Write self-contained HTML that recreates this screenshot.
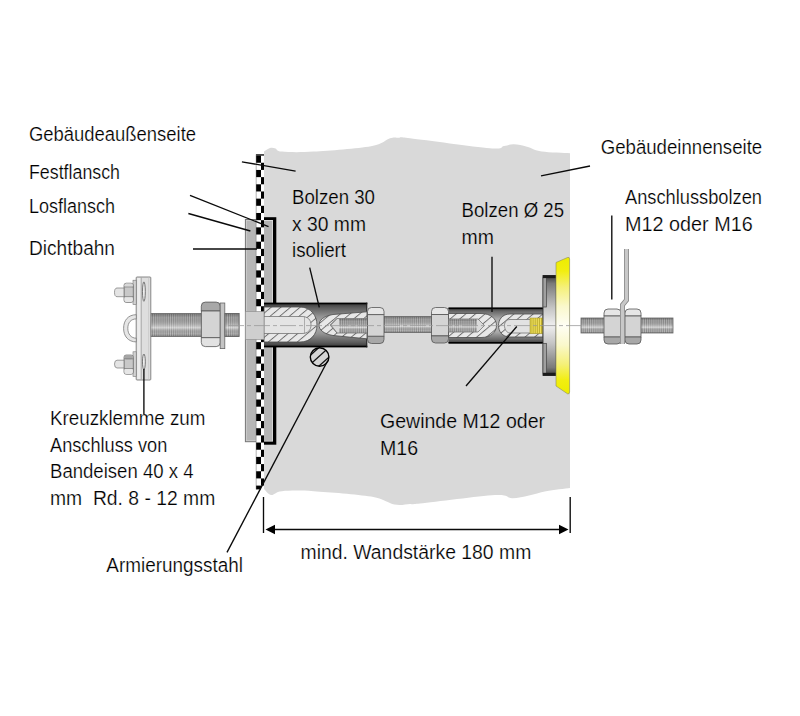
<!DOCTYPE html><html><head><meta charset="utf-8"><style>html,body{margin:0;padding:0;background:#fff;width:800px;height:716px;overflow:hidden}svg{display:block}text{font-family:"Liberation Sans",sans-serif;fill:#000}</style></head><body>
<svg width="800" height="716" viewBox="0 0 800 716">
<defs>
<linearGradient id="gSleeve" x1="0" y1="0" x2="0" y2="1">
<stop offset="0" stop-color="#383838"/><stop offset="0.1" stop-color="#5c5c5c"/><stop offset="0.3" stop-color="#939393"/><stop offset="0.5" stop-color="#b2b2b2"/><stop offset="0.7" stop-color="#939393"/><stop offset="0.9" stop-color="#5c5c5c"/><stop offset="1" stop-color="#383838"/></linearGradient>
<linearGradient id="gSleeve2" x1="0" y1="0" x2="0" y2="1">
<stop offset="0" stop-color="#3a3a3a"/><stop offset="0.1" stop-color="#6a6a6a"/><stop offset="0.3" stop-color="#a6a6a6"/><stop offset="0.5" stop-color="#c4c4c4"/><stop offset="0.7" stop-color="#a6a6a6"/><stop offset="0.9" stop-color="#6a6a6a"/><stop offset="1" stop-color="#3a3a3a"/></linearGradient>
<linearGradient id="gYellow" x1="0" y1="0" x2="0" y2="1">
<stop offset="0" stop-color="#ecec00"/><stop offset="0.1" stop-color="#f2ee10"/><stop offset="0.22" stop-color="#f5f07a"/><stop offset="0.36" stop-color="#faf8cc"/><stop offset="0.5" stop-color="#fefef4"/><stop offset="0.64" stop-color="#faf8cc"/><stop offset="0.78" stop-color="#f5f07a"/><stop offset="0.9" stop-color="#f2ee10"/><stop offset="1" stop-color="#ecec00"/></linearGradient>
<linearGradient id="gFlange" x1="0" y1="0" x2="0" y2="1">
<stop offset="0" stop-color="#3a3a3a"/><stop offset="0.08" stop-color="#7a7a7a"/><stop offset="0.32" stop-color="#c4c4c4"/><stop offset="0.5" stop-color="#efefef"/><stop offset="0.68" stop-color="#c4c4c4"/><stop offset="0.92" stop-color="#7a7a7a"/><stop offset="1" stop-color="#3a3a3a"/></linearGradient>
<pattern id="pThread" width="1.9" height="10" patternUnits="userSpaceOnUse"><rect width="1.9" height="10" fill="#c8c8c8"/><rect width="0.7" height="10" fill="#8a8a8a"/></pattern>
<linearGradient id="gRod" x1="0" y1="0" x2="0" y2="1"><stop offset="0" stop-color="#000" stop-opacity="0.35"/><stop offset="0.18" stop-color="#000" stop-opacity="0.12"/><stop offset="0.62" stop-color="#fff" stop-opacity="0.45"/><stop offset="0.88" stop-color="#000" stop-opacity="0.05"/><stop offset="1" stop-color="#000" stop-opacity="0.3"/></linearGradient>
<pattern id="pHatch" width="6.2" height="6.2" patternUnits="userSpaceOnUse" patternTransform="rotate(50)"><rect width="6.2" height="6.2" fill="#e8e8e8"/><rect width="0.95" height="6.2" fill="#6e6e6e"/></pattern>
</defs>
<path d="M264,151.6 C265.00,151.00 268.08,148.53 270.00,148.00 C271.92,147.47 273.50,147.80 275.50,148.40 C277.50,149.00 275.63,151.07 282.00,151.60 C288.37,152.13 298.87,152.50 313.70,151.60 C328.53,150.70 358.28,148.43 371.00,146.20 C383.72,143.97 385.33,139.62 390.00,138.20 C394.67,136.78 395.67,137.70 399.00,137.70 C402.33,137.70 394.83,136.45 410.00,138.20 C425.17,139.95 474.33,146.90 490.00,148.20 C505.67,149.50 500.00,146.65 504.00,146.00 C508.00,145.35 510.17,144.17 514.00,144.30 C517.83,144.43 522.38,145.58 527.00,146.80 C531.62,148.02 534.53,150.53 541.70,151.60 C548.87,152.67 565.28,152.93 570.00,153.20 L570,488 C566.00,488.53 552.83,489.95 546.00,491.20 C539.17,492.45 534.67,494.32 529.00,495.50 C523.33,496.68 517.67,498.38 512.00,498.30 C506.33,498.22 510.33,494.12 495.00,495.00 C479.67,495.88 434.17,502.10 420.00,503.60 C405.83,505.10 414.25,503.83 410.00,504.00 C405.75,504.17 401.00,505.83 394.50,504.60 C388.00,503.37 384.47,498.83 371.00,496.60 C357.53,494.37 328.53,492.10 313.70,491.20 C298.87,490.30 289.08,490.57 282.00,491.20 C274.92,491.83 274.20,495.37 271.20,495.00 C268.20,494.63 265.20,490.00 264.00,489.00 Z" fill="#d9d9d9"/>
<rect x="244.9" y="219" width="11.4" height="223.2" fill="#777"/>
<rect x="245.9" y="220" width="10.4" height="221.2" fill="#d0d0d0"/>
<rect x="246.7" y="220.8" width="9.6" height="219.6" fill="#b6b6b6"/>
<rect x="263.6" y="217.2" width="12.7" height="227.5" fill="#000"/>
<rect x="263.6" y="220" width="9.4" height="221.6" fill="#dcdcdc"/>
<rect x="263.6" y="221" width="8.6" height="219.8" fill="#b4b4b4"/>
<rect x="256" y="154.3" width="8" height="335" fill="#fff"/>
<rect x="256" y="155.60" width="5" height="7.17" fill="#000"/>
<rect x="261" y="162.77" width="3" height="7.17" fill="#000"/>
<rect x="256" y="169.95" width="5" height="7.17" fill="#000"/>
<rect x="261" y="177.12" width="3" height="7.17" fill="#000"/>
<rect x="256" y="184.30" width="5" height="7.17" fill="#000"/>
<rect x="261" y="191.47" width="3" height="7.17" fill="#000"/>
<rect x="256" y="198.64" width="5" height="7.17" fill="#000"/>
<rect x="261" y="205.82" width="3" height="7.17" fill="#000"/>
<rect x="256" y="212.99" width="5" height="7.17" fill="#000"/>
<rect x="261" y="220.17" width="3" height="7.17" fill="#000"/>
<rect x="256" y="227.34" width="5" height="7.17" fill="#000"/>
<rect x="261" y="234.51" width="3" height="7.17" fill="#000"/>
<rect x="256" y="241.69" width="5" height="7.17" fill="#000"/>
<rect x="261" y="248.86" width="3" height="7.17" fill="#000"/>
<rect x="256" y="256.03" width="5" height="7.17" fill="#000"/>
<rect x="261" y="263.21" width="3" height="7.17" fill="#000"/>
<rect x="256" y="270.38" width="5" height="7.17" fill="#000"/>
<rect x="261" y="277.56" width="3" height="7.17" fill="#000"/>
<rect x="256" y="284.73" width="5" height="7.17" fill="#000"/>
<rect x="261" y="291.90" width="3" height="7.17" fill="#000"/>
<rect x="256" y="299.08" width="5" height="7.17" fill="#000"/>
<rect x="261" y="306.25" width="3" height="7.17" fill="#000"/>
<rect x="256" y="313.43" width="5" height="7.17" fill="#000"/>
<rect x="261" y="320.60" width="3" height="7.17" fill="#000"/>
<rect x="256" y="327.77" width="5" height="7.17" fill="#000"/>
<rect x="261" y="334.95" width="3" height="7.17" fill="#000"/>
<rect x="256" y="342.12" width="5" height="7.17" fill="#000"/>
<rect x="261" y="349.30" width="3" height="7.17" fill="#000"/>
<rect x="256" y="356.47" width="5" height="7.17" fill="#000"/>
<rect x="261" y="363.64" width="3" height="7.17" fill="#000"/>
<rect x="256" y="370.82" width="5" height="7.17" fill="#000"/>
<rect x="261" y="377.99" width="3" height="7.17" fill="#000"/>
<rect x="256" y="385.17" width="5" height="7.17" fill="#000"/>
<rect x="261" y="392.34" width="3" height="7.17" fill="#000"/>
<rect x="256" y="399.51" width="5" height="7.17" fill="#000"/>
<rect x="261" y="406.69" width="3" height="7.17" fill="#000"/>
<rect x="256" y="413.86" width="5" height="7.17" fill="#000"/>
<rect x="261" y="421.03" width="3" height="7.17" fill="#000"/>
<rect x="256" y="428.21" width="5" height="7.17" fill="#000"/>
<rect x="261" y="435.38" width="3" height="7.17" fill="#000"/>
<rect x="256" y="442.56" width="5" height="7.17" fill="#000"/>
<rect x="261" y="449.73" width="3" height="7.17" fill="#000"/>
<rect x="256" y="456.90" width="5" height="7.17" fill="#000"/>
<rect x="261" y="464.08" width="3" height="7.17" fill="#000"/>
<rect x="256" y="471.25" width="5" height="7.17" fill="#000"/>
<rect x="261" y="478.43" width="3" height="7.17" fill="#000"/>
<rect x="256" y="485.60" width="5" height="3.80" fill="#000"/>
<rect x="256" y="154.3" width="8" height="1.3" fill="#000"/>
<line x1="256.2" y1="154.3" x2="256.2" y2="489.4" stroke="#666" stroke-width="0.5"/>
<rect x="150" y="313.5" width="89" height="23" fill="url(#pThread)"/>
<rect x="150" y="313.5" width="89" height="23" fill="url(#gRod)" stroke="#666" stroke-width="0.8"/>
<path d="M201.3,311.0 V306.1 Q201.3,302.1 205.3,302.1 H216.20000000000002 Q220.20000000000002,302.1 220.20000000000002,306.1 V311.0 Z" fill="#a8a8a8" stroke="#555" stroke-width="0.8"/>
<rect x="201.3" y="311.0" width="18.9" height="26.7" fill="#d4d4d4" stroke="#555" stroke-width="0.8"/>
<path d="M201.3,337.70000000000005 V342.6 Q201.3,346.6 205.3,346.6 H216.20000000000002 Q220.20000000000002,346.6 220.20000000000002,342.6 V337.70000000000005 Z" fill="#e2e2e2" stroke="#555" stroke-width="0.8"/>
<rect x="220.2" y="303" width="4.6" height="45.6" fill="#c4c4c4" stroke="#666" stroke-width="0.8"/>
<rect x="136.2" y="277" width="14.6" height="103" rx="0.8" fill="#dedede" stroke="#7a7a7a" stroke-width="0.9"/>
<rect x="137.2" y="278" width="3" height="101" fill="#ececec"/>
<line x1="141.3" y1="277.5" x2="141.3" y2="379.5" stroke="#999" stroke-width="0.7"/>
<line x1="148.6" y1="277.5" x2="148.6" y2="379.5" stroke="#c4c4c4" stroke-width="0.7"/>
<ellipse cx="143.9" cy="291.6" rx="1.4" ry="9.7" fill="#f0f0f0" stroke="#555" stroke-width="0.8"/>
<ellipse cx="143.9" cy="361.8" rx="1.4" ry="7.8" fill="#f0f0f0" stroke="#555" stroke-width="0.8"/>
<path d="M136.3,314.7 C128,314.7 123.6,320.5 123.6,328.3 C123.6,336 128,341.9 136.3,341.9 V338.2 C131,338.2 127.8,334 127.8,328.3 C127.8,322.6 131,318.9 136.3,318.9 Z" fill="#e6e6e6" stroke="#7a7a7a" stroke-width="0.8"/>
<rect x="133" y="280.2" width="3.2" height="24.400000000000034" fill="#d2d2d2" stroke="#777" stroke-width="0.6"/>
<rect x="124" y="283.2" width="9.3" height="19.19999999999999" rx="2.2" fill="#c8c8c8" stroke="#666" stroke-width="0.7"/>
<rect x="124.4" y="283.59999999999997" width="8.5" height="3.839999999999998" rx="2" fill="#d8d8d8"/>
<rect x="124.4" y="296.64" width="8.5" height="5.359999999999996" rx="2" fill="#e6e6e6"/>
<line x1="124" y1="287.03999999999996" x2="133.3" y2="287.03999999999996" stroke="#666" stroke-width="0.6"/>
<line x1="124" y1="296.64" x2="133.3" y2="296.64" stroke="#666" stroke-width="0.6"/>
<path d="M124,288 H117 Q114.5,288 114.5,292.35 Q114.5,296.7 117,296.7 H124 Z" fill="#e4e4e4" stroke="#777" stroke-width="0.7"/>
<rect x="133" y="351.8" width="3.2" height="24.599999999999966" fill="#d2d2d2" stroke="#777" stroke-width="0.6"/>
<rect x="124" y="355" width="9.3" height="19.30000000000001" rx="2.2" fill="#c8c8c8" stroke="#666" stroke-width="0.7"/>
<rect x="124.4" y="355.4" width="8.5" height="3.8600000000000025" rx="2" fill="#a6a6a6"/>
<rect x="124.4" y="368.51" width="8.5" height="5.390000000000003" rx="2" fill="#e6e6e6"/>
<line x1="124" y1="358.86" x2="133.3" y2="358.86" stroke="#666" stroke-width="0.6"/>
<line x1="124" y1="368.51" x2="133.3" y2="368.51" stroke="#666" stroke-width="0.6"/>
<path d="M124,360.2 H117 Q114.5,360.2 114.5,364.1 Q114.5,368 117,368 H124 Z" fill="#e4e4e4" stroke="#777" stroke-width="0.7"/>
<rect x="264" y="303.2" width="103" height="43.6" fill="url(#gSleeve)"/>
<rect x="264" y="302.6" width="103.3" height="1.7" fill="#000"/>
<rect x="264" y="345.7" width="103.3" height="1.7" fill="#000"/>
<rect x="366.3" y="302.6" width="1" height="44.8" fill="#222"/>
<path d="M264,307 H300 C311,307 317,316 317,325 C317,334 311,342 300,342 H264 Z" fill="url(#pHatch)" stroke="#4a4a4a" stroke-width="0.8"/>
<path d="M264,316.5 H302 C308,316.5 311,320 311,325 C311,330 308,333.5 302,333.5 H264 Z" fill="#e4e4e4" stroke="#666" stroke-width="0.7"/>
<line x1="304.5" y1="316.5" x2="304.5" y2="333.5" stroke="#888" stroke-width="0.6"/>
<path d="M367,311.8 L333,314.5 C324,316 319,320 319,325 C319,330 324,334 333,335.5 L367,338.8 Z" fill="url(#pHatch)" stroke="#4a4a4a" stroke-width="0.8"/>
<path d="M367,318.5 H337 L330,325 L337,333 H367 Z" fill="#dadada" stroke="#666" stroke-width="0.7"/>
<path d="M337,318.5 L331,325 L337,333" fill="none" stroke="#666" stroke-width="0.6"/>
<rect x="339" y="318.8" width="28" height="14" fill="url(#pThread)"/>
<rect x="339" y="318.8" width="28" height="14" fill="url(#gRod)"/>
<rect x="245.3" y="311.5" width="18.7" height="28" fill="#cfcfcf" stroke="#888" stroke-width="0.6"/>
<rect x="225" y="313.5" width="14" height="23" fill="url(#pThread)"/>
<rect x="225" y="313.5" width="14" height="23" fill="url(#gRod)" stroke="#666" stroke-width="0.8"/>
<rect x="384" y="316.5" width="48" height="16" fill="url(#pThread)"/>
<rect x="384" y="316.5" width="48" height="16" fill="url(#gRod)" stroke="#666" stroke-width="0.8"/>
<path d="M367.5,314.7 V311.5 Q367.5,307.5 371.5,307.5 H380.0 Q384.0,307.5 384.0,311.5 V314.7 Z" fill="#e6e6e6" stroke="#555" stroke-width="0.8"/>
<rect x="367.5" y="314.7" width="16.5" height="21.6" fill="#d4d4d4" stroke="#555" stroke-width="0.8"/>
<path d="M367.5,336.3 V339.5 Q367.5,343.5 371.5,343.5 H380.0 Q384.0,343.5 384.0,339.5 V336.3 Z" fill="#a8a8a8" stroke="#555" stroke-width="0.8"/>
<path d="M431.5,314.6 V311.5 Q431.5,307.5 435.5,307.5 H444.5 Q448.5,307.5 448.5,311.5 V314.6 Z" fill="#e6e6e6" stroke="#555" stroke-width="0.8"/>
<rect x="431.5" y="314.6" width="17" height="21.299999999999997" fill="#d4d4d4" stroke="#555" stroke-width="0.8"/>
<path d="M431.5,335.9 V339 Q431.5,343 435.5,343 H444.5 Q448.5,343 448.5,339 V335.9 Z" fill="#a8a8a8" stroke="#555" stroke-width="0.8"/>
<rect x="448.5" y="308" width="95" height="35" fill="url(#gSleeve2)"/>
<rect x="448.5" y="307.4" width="95" height="1.7" fill="#000"/>
<rect x="448.5" y="342" width="95" height="1.7" fill="#000"/>
<path d="M448.5,313.5 H481 C491,313.5 496.5,319 496.5,325.5 C496.5,332 491,337.5 481,337.5 H448.5 Z" fill="url(#pHatch)" stroke="#4a4a4a" stroke-width="0.8"/>
<path d="M448.5,319 H478 L484.5,325.5 L478,332 H448.5 Z" fill="#dadada" stroke="#666" stroke-width="0.7"/>
<rect x="449" y="319.3" width="28" height="12.4" fill="url(#pThread)"/>
<rect x="449" y="319.3" width="28" height="12.4" fill="url(#gRod)"/>
<path d="M543,314 H510 C502,314 498.5,320 498.5,325.5 C498.5,331 502,337 510,337 H543 Z" fill="url(#pHatch)" stroke="#4a4a4a" stroke-width="0.8"/>
<path d="M543,319.5 H510 C506.5,319.5 504.5,322 504.5,325.5 C504.5,329 506.5,333 510,333 H543 Z" fill="#e2e2e2" stroke="#666" stroke-width="0.7"/>
<rect x="530" y="318" width="12.8" height="15.5" fill="#f0e060" stroke="#a09020" stroke-width="0.5"/>
<line x1="531.0" y1="318" x2="531.0" y2="333.5" stroke="#a89818" stroke-width="0.7"/>
<line x1="533.1" y1="318" x2="533.1" y2="333.5" stroke="#a89818" stroke-width="0.7"/>
<line x1="535.2" y1="318" x2="535.2" y2="333.5" stroke="#a89818" stroke-width="0.7"/>
<line x1="537.3" y1="318" x2="537.3" y2="333.5" stroke="#a89818" stroke-width="0.7"/>
<line x1="539.4" y1="318" x2="539.4" y2="333.5" stroke="#a89818" stroke-width="0.7"/>
<line x1="541.5" y1="318" x2="541.5" y2="333.5" stroke="#a89818" stroke-width="0.7"/>
<rect x="543" y="275.5" width="13.2" height="100" fill="url(#gFlange)" stroke="#333" stroke-width="0.9"/>
<rect x="543" y="277" width="3.5" height="30" fill="#a0a0a0" stroke="#444" stroke-width="0.7"/>
<rect x="543" y="343.5" width="3.5" height="30.5" fill="#a0a0a0" stroke="#444" stroke-width="0.7"/>
<rect x="543" y="275.3" width="13.2" height="2.8" fill="#1a1a1a"/>
<rect x="543" y="372.8" width="13.2" height="2.8" fill="#1a1a1a"/>
<path d="M556,262.5 L567.5,257.5 Q569.6,256.8 569.6,259 V392 Q569.6,394.4 567.5,393.8 L556,386 Z" fill="url(#gYellow)" stroke="#8a8a60" stroke-width="0.6"/>
<rect x="581" y="318" width="92" height="15" fill="url(#pThread)"/>
<rect x="581" y="318" width="92" height="15" fill="url(#gRod)" stroke="#666" stroke-width="0.8"/>
<path d="M604,316.0 V313 Q604,309 608,309 H617 Q621,309 621,313 V316.0 Z" fill="#e6e6e6" stroke="#555" stroke-width="0.8"/>
<rect x="604" y="316.0" width="17" height="21.0" fill="#d4d4d4" stroke="#555" stroke-width="0.8"/>
<path d="M604,337.0 V340 Q604,344 608,344 H617 Q621,344 621,340 V337.0 Z" fill="#a8a8a8" stroke="#555" stroke-width="0.8"/>
<path d="M625,316.0 V313 Q625,309 629,309 H637 Q641,309 641,313 V316.0 Z" fill="#e6e6e6" stroke="#555" stroke-width="0.8"/>
<rect x="625" y="316.0" width="16" height="21.0" fill="#d4d4d4" stroke="#555" stroke-width="0.8"/>
<path d="M625,337.0 V340 Q625,344 629,344 H637 Q641,344 641,340 V337.0 Z" fill="#a8a8a8" stroke="#555" stroke-width="0.8"/>
<path d="M626.5,249 V300 L622.5,305 V344" fill="none" stroke="#888" stroke-width="5"/>
<path d="M626.5,249 V300 L622.5,305 V344" fill="none" stroke="#c8c8c8" stroke-width="3.4"/>
<clipPath id="cReb"><circle cx="319.6" cy="357" r="9.3"/></clipPath>
<circle cx="319.6" cy="357" r="9.3" fill="#d4d4d4"/>
<g clip-path="url(#cReb)">
<line x1="303.43" y1="361.46" x2="325.73" y2="341.39" stroke="#111" stroke-width="1.3"/>
<line x1="307.92" y1="366.44" x2="330.21" y2="346.37" stroke="#111" stroke-width="1.3"/>
<line x1="312.67" y1="371.72" x2="334.96" y2="351.64" stroke="#111" stroke-width="1.3"/>
</g>
<circle cx="319.6" cy="357" r="9.3" fill="none" stroke="#000" stroke-width="1.4"/>
<line x1="228" y1="325.6" x2="582" y2="325.6" stroke="#999" stroke-width="0.9" stroke-dasharray="16,3,4,3" opacity="0.85"/>
<line x1="241.9" y1="161.8" x2="295.6" y2="171.2" stroke="#0a0a0a" stroke-width="1.35"/>
<line x1="190" y1="195.4" x2="268.5" y2="226.6" stroke="#0a0a0a" stroke-width="1.35"/>
<line x1="188.4" y1="213.5" x2="250.4" y2="231" stroke="#0a0a0a" stroke-width="1.35"/>
<line x1="193" y1="249" x2="257" y2="249" stroke="#0a0a0a" stroke-width="1.35"/>
<line x1="309.7" y1="267.6" x2="319.3" y2="307.4" stroke="#0a0a0a" stroke-width="1.35"/>
<line x1="492" y1="256.75" x2="492" y2="311.9" stroke="#0a0a0a" stroke-width="1.35"/>
<line x1="541" y1="175.8" x2="590" y2="166" stroke="#0a0a0a" stroke-width="1.35"/>
<line x1="611.8" y1="215.5" x2="611.8" y2="299.5" stroke="#0a0a0a" stroke-width="1.35"/>
<line x1="143.9" y1="369" x2="143.9" y2="414.7" stroke="#0a0a0a" stroke-width="1.35"/>
<line x1="466" y1="386" x2="516.8" y2="326.5" stroke="#0a0a0a" stroke-width="1.35"/>
<line x1="227" y1="552.4" x2="327" y2="362" stroke="#0a0a0a" stroke-width="1.35"/>
<line x1="263.5" y1="497" x2="263.5" y2="533" stroke="#0a0a0a" stroke-width="1.35"/>
<line x1="570.2" y1="497" x2="570.2" y2="533" stroke="#0a0a0a" stroke-width="1.35"/>
<line x1="272" y1="529.5" x2="562" y2="529.5" stroke="#0a0a0a" stroke-width="1.35"/>
<polygon points="265.5,529.5 275,524.8 275,534.2" fill="#000"/>
<polygon points="568.5,529.5 559,524.8 559,534.2" fill="#000"/>
<text x="29" y="141.30" font-size="19.5" textLength="167" lengthAdjust="spacingAndGlyphs" xml:space="preserve" stroke="#ffffff" stroke-width="0.22">Gebäudeaußenseite</text>
<text x="29" y="179.30" font-size="19.5" textLength="91" lengthAdjust="spacingAndGlyphs" xml:space="preserve" stroke="#ffffff" stroke-width="0.22">Festflansch</text>
<text x="29" y="212.80" font-size="19.5" textLength="86" lengthAdjust="spacingAndGlyphs" xml:space="preserve" stroke="#ffffff" stroke-width="0.22">Losflansch</text>
<text x="29" y="254.90" font-size="19.5" textLength="86" lengthAdjust="spacingAndGlyphs" xml:space="preserve" stroke="#ffffff" stroke-width="0.22">Dichtbahn</text>
<text x="292" y="204.05" font-size="19.5" textLength="83" lengthAdjust="spacingAndGlyphs" xml:space="preserve" stroke="#d9d9d9" stroke-width="0.22">Bolzen 30</text>
<text x="292" y="231.05" font-size="19.5" textLength="74" lengthAdjust="spacingAndGlyphs" xml:space="preserve" stroke="#d9d9d9" stroke-width="0.22">x 30 mm</text>
<text x="292" y="257.30" font-size="19.5" textLength="54" lengthAdjust="spacingAndGlyphs" xml:space="preserve" stroke="#d9d9d9" stroke-width="0.22">isoliert</text>
<text x="461.6" y="216.90" font-size="19.5" textLength="102.4" lengthAdjust="spacingAndGlyphs" xml:space="preserve" stroke="#d9d9d9" stroke-width="0.22">Bolzen Ø 25</text>
<text x="461.6" y="243.70" font-size="19.5" textLength="32.4" lengthAdjust="spacingAndGlyphs" xml:space="preserve" stroke="#d9d9d9" stroke-width="0.22">mm</text>
<text x="600.7" y="154.30" font-size="19.5" textLength="161.5" lengthAdjust="spacingAndGlyphs" xml:space="preserve" stroke="#ffffff" stroke-width="0.22">Gebäudeinnenseite</text>
<text x="625" y="204.10" font-size="19.5" textLength="137" lengthAdjust="spacingAndGlyphs" xml:space="preserve" stroke="#ffffff" stroke-width="0.22">Anschlussbolzen</text>
<text x="625" y="231.40" font-size="19.5" textLength="127.7" lengthAdjust="spacingAndGlyphs" xml:space="preserve" stroke="#ffffff" stroke-width="0.22">M12 oder M16</text>
<text x="50" y="425.30" font-size="19.5" textLength="155.4" lengthAdjust="spacingAndGlyphs" xml:space="preserve" stroke="#ffffff" stroke-width="0.22">Kreuzklemme zum</text>
<text x="50" y="451.50" font-size="19.5" textLength="117.3" lengthAdjust="spacingAndGlyphs" xml:space="preserve" stroke="#ffffff" stroke-width="0.22">Anschluss von</text>
<text x="50" y="478.30" font-size="19.5" textLength="143.5" lengthAdjust="spacingAndGlyphs" xml:space="preserve" stroke="#ffffff" stroke-width="0.22">Bandeisen 40 x 4</text>
<text x="50" y="504.50" font-size="19.5" textLength="165.3" lengthAdjust="spacingAndGlyphs" xml:space="preserve" stroke="#ffffff" stroke-width="0.22">mm  Rd. 8 - 12 mm</text>
<text x="380" y="428.05" font-size="19.5" textLength="165" lengthAdjust="spacingAndGlyphs" xml:space="preserve" stroke="#d9d9d9" stroke-width="0.22">Gewinde M12 oder</text>
<text x="380" y="454.80" font-size="19.5" textLength="38" lengthAdjust="spacingAndGlyphs" xml:space="preserve" stroke="#d9d9d9" stroke-width="0.22">M16</text>
<text x="300.5" y="558.80" font-size="19.5" textLength="230.8" lengthAdjust="spacingAndGlyphs" xml:space="preserve" stroke="#ffffff" stroke-width="0.22">mind. Wandstärke 180 mm</text>
<text x="106.3" y="571.90" font-size="19.5" textLength="136.6" lengthAdjust="spacingAndGlyphs" xml:space="preserve" stroke="#ffffff" stroke-width="0.22">Armierungsstahl</text>
</svg></body></html>
